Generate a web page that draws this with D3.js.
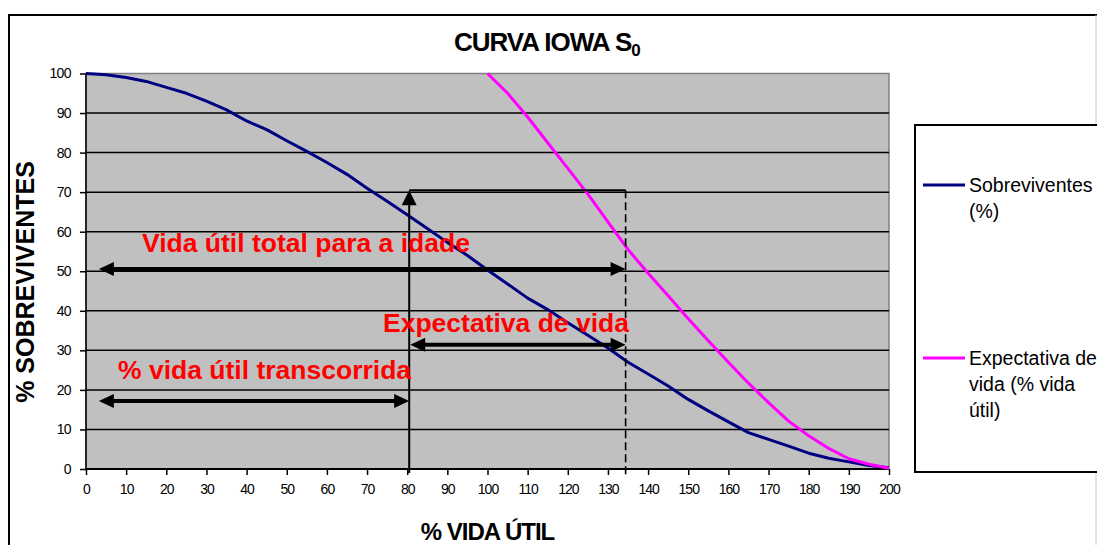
<!DOCTYPE html>
<html>
<head>
<meta charset="utf-8">
<script src="https://cdn.jsdelivr.net/npm/d3@7"></script>
<style>
  html, body { margin: 0; padding: 0; background: #fff; }
  svg { display: block; font-family: "Liberation Sans", Arial, sans-serif; }
</style>
</head>
<body>
<svg id="chart" width="1097" height="545"></svg>
<script>
// ---- data ----
const ageX = [0,5,10,15,20,25,30,35,40,45,50,55,60,65,70,75,80,85,90,95,100,105,110,115,120,125,130,135,140,145,150,155,160,165,170,175,180,185,190,195,200];
const sobreviventes = [100,99.7,99,98,96.5,95,93,90.8,88,85.8,83,80.3,77.5,74.5,71,67.7,64.3,60.8,57.3,54,50.3,46.8,43.2,40.3,37,33.8,30.6,27,24,21,17.6,14.7,11.9,9.2,7.5,5.8,4,2.7,1.8,0.9,0.3];
const expectX = [100,105,110,115,120,125,130,135,140,145,150,155,160,165,170,175,180,185,190,195,200];
const expectativa = [100,95,89,82.5,76,69.5,62.5,55.5,49.5,43.8,38,32.4,27,21.7,16.8,12.1,8.4,5.2,2.6,1.2,0.2];
const xTicks = [0,10,20,30,40,50,60,70,80,90,100,110,120,130,140,150,160,170,180,190,200];
const yTicks = [0,10,20,30,40,50,60,70,80,90,100];
const seriesNames = [["Sobreviventes", "(%)"], ["Expectativa de", "vida (% vida", "útil)"]];
const seriesColors = ["#000080", "#ff00ff"];
// annotation values (data units)
const ageNow = 80.5, totalLife = 134.4, boxTop = 70.5;
const arrowTotalY = 50.6, arrowExpY = 31.4, arrowElapsedY = 17.2, arrowStartX = 3.2;
const labels = ["Vida útil total para a idade", "Expectativa de vida", "% vida útil transcorrida"];

// ---- drawing ----
const svg = d3.select("#chart");
const x = d3.scaleLinear().domain([0, 200]).range([86, 889]);
const y = d3.scaleLinear().domain([0, 100]).range([469, 73.5]);

// outer border
svg.append("rect").attr("x", 9).attr("y", 15).attr("width", 1100).attr("height", 560)
  .attr("fill", "#fff").attr("stroke", "#000").attr("stroke-width", 2);
svg.append("line").attr("x1", 1096).attr("x2", 1096).attr("y1", 15).attr("y2", 545)
  .attr("stroke", "#c8c8c8").attr("stroke-width", 1);

// plot background
svg.append("rect").attr("x", x(0)).attr("y", y(100)).attr("width", x(200) - x(0)).attr("height", y(0) - y(100))
  .attr("fill", "#c0c0c0").attr("stroke", "#808080").attr("stroke-width", 1.5);

// gridlines
svg.append("g").selectAll("line").data(yTicks.filter(d => d > 0 && d < 100)).join("line")
  .attr("x1", x(0)).attr("x2", x(200)).attr("y1", d => y(d)).attr("y2", d => y(d))
  .attr("stroke", "#000").attr("stroke-width", 1.5);

// axes
const yAxis = d3.axisLeft(y).tickValues(yTicks).tickSize(6).tickPadding(9);
const gy = svg.append("g").attr("transform", `translate(${x(0)},0)`).call(yAxis);
gy.attr("font-size", 14).attr("font-family", "Liberation Sans, Arial, sans-serif");
gy.select(".domain").attr("stroke-width", 1.5).attr("d", `M0,${y(100)}V${y(0)}`);
gy.selectAll(".tick line").attr("stroke-width", 1.5);
gy.selectAll("text").attr("fill", "#000").attr("letter-spacing", -0.6);

const xAxis = d3.axisBottom(x).tickValues(xTicks).tickSize(6).tickPadding(9);
const gx = svg.append("g").attr("transform", `translate(0,${y(0)})`).call(xAxis);
gx.attr("font-size", 14).attr("font-family", "Liberation Sans, Arial, sans-serif");
gx.select(".domain").attr("stroke-width", 2).attr("d", `M${x(0)},0H${x(200)}`);
gx.selectAll(".tick line").attr("stroke-width", 1.5);
gx.selectAll("text").attr("fill", "#000").attr("letter-spacing", -1);

// series lines
const line = d3.line().x(d => x(d[0])).y(d => y(d[1]));
svg.append("path").datum(ageX.map((v, i) => [v, sobreviventes[i]]))
  .attr("d", line).attr("fill", "none").attr("stroke", seriesColors[0]).attr("stroke-width", 3).attr("stroke-linejoin", "round");
svg.append("path").datum(expectX.map((v, i) => [v, expectativa[i]]))
  .attr("d", line).attr("fill", "none").attr("stroke", seriesColors[1]).attr("stroke-width", 3).attr("stroke-linejoin", "round");

// annotations
const ann = svg.append("g");
function arrowHead(tipX, tipY, dir, len, half) {
  let pts;
  if (dir === "up") pts = [[tipX, tipY], [tipX - half, tipY + len], [tipX + half, tipY + len]];
  else if (dir === "right") pts = [[tipX, tipY], [tipX - len, tipY - half], [tipX - len, tipY + half]];
  else pts = [[tipX, tipY], [tipX + len, tipY - half], [tipX + len, tipY + half]];
  ann.append("path").attr("d", "M" + pts.map(p => p.join(",")).join("L") + "Z").attr("fill", "#000");
}
// vertical arrow at current age
ann.append("line").attr("x1", x(ageNow)).attr("x2", x(ageNow)).attr("y1", y(0) + 4).attr("y2", y(boxTop) + 10)
  .attr("stroke", "#000").attr("stroke-width", 2);
arrowHead(x(ageNow), y(boxTop), "up", 15, 7.5);
// top connector
ann.append("line").attr("x1", x(ageNow)).attr("x2", x(totalLife)).attr("y1", y(boxTop)).attr("y2", y(boxTop))
  .attr("stroke", "#000").attr("stroke-width", 2);
// dashed vertical at total life
ann.append("line").attr("x1", x(totalLife)).attr("x2", x(totalLife)).attr("y1", y(boxTop)).attr("y2", y(0) + 9)
  .attr("stroke", "#000").attr("stroke-width", 1.6).attr("stroke-dasharray", "8,4");

function dblArrow(x1, x2, yy, w) {
  ann.append("line").attr("x1", x1 + 10).attr("x2", x2 - 10).attr("y1", yy).attr("y2", yy)
    .attr("stroke", "#000").attr("stroke-width", w);
  arrowHead(x1, yy, "left", 15, 7);
  arrowHead(x2, yy, "right", 15, 7);
}
dblArrow(x(arrowStartX), x(totalLife), y(arrowTotalY), 4);
dblArrow(x(ageNow) + 1, x(totalLife), y(arrowExpY), 4);
dblArrow(x(arrowStartX), x(ageNow), y(arrowElapsedY), 4);

// red labels
const red = svg.append("g").attr("fill", "#ff0000").attr("font-weight", "bold").attr("font-size", 26.5);
red.append("text").attr("x", 142).attr("y", 252).text(labels[0]);
red.append("text").attr("x", 383).attr("y", 332).text(labels[1]);
red.append("text").attr("x", 118).attr("y", 379).text(labels[2]);

// title
const title = svg.append("text").attr("x", 454).attr("y", 51).attr("font-weight", "bold").attr("font-size", 26).attr("letter-spacing", -1);
title.append("tspan").text("CURVA IOWA S");
title.append("tspan").attr("font-size", 17).attr("dy", 5).text("0");

// axis titles
svg.append("text").attr("x", (x(0) + x(200)) / 2).attr("y", 540).attr("text-anchor", "middle")
  .attr("font-weight", "bold").attr("font-size", 24).attr("letter-spacing", -1).text("% VIDA ÚTIL");
svg.append("text").attr("transform", "translate(34,282) rotate(-90)").attr("text-anchor", "middle")
  .attr("font-weight", "bold").attr("font-size", 25).text("% SOBREVIVENTES");

// legend
svg.append("rect").attr("x", 915).attr("y", 125).attr("width", 200).attr("height", 347)
  .attr("fill", "#fff").attr("stroke", "#000").attr("stroke-width", 2);
const legY = [185, 358];
const lg = svg.append("g");
seriesNames.forEach((lines, i) => {
  lg.append("line").attr("x1", 923).attr("x2", 965).attr("y1", legY[i]).attr("y2", legY[i])
    .attr("stroke", seriesColors[i]).attr("stroke-width", 3);
  lines.forEach((t, j) => {
    lg.append("text").attr("x", 969).attr("y", legY[i] + 7 + j * 26).attr("font-size", 19.5).text(t);
  });
});
</script>
</body>
</html>
